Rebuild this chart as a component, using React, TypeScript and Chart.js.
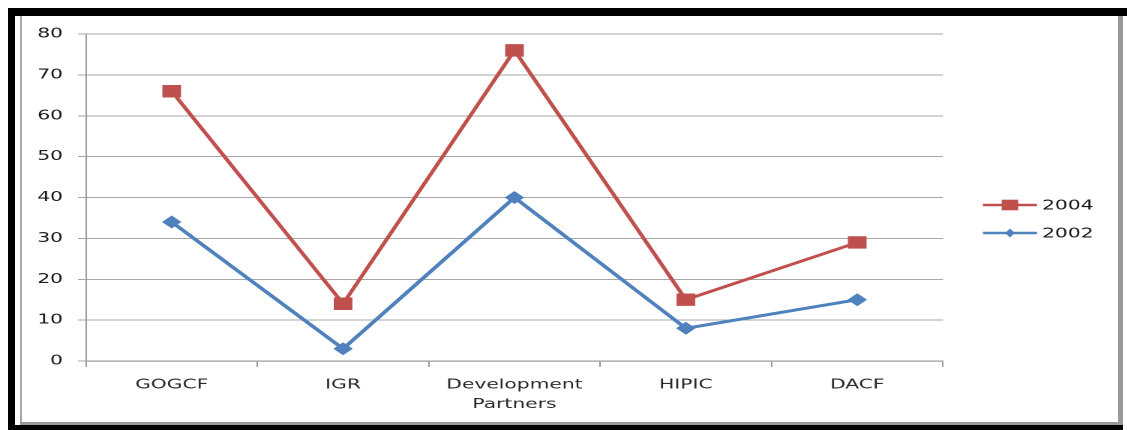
import React, { useEffect, useRef } from "react";
import { Chart, registerables } from "chart.js";

Chart.register(...registerables);

const categories: (string | string[])[] = ["GOGCF", "IGR", ["Development", "Partners"], "HIPIC", "DACF"];
const seriesNames = ["2004", "2002"];
const values2004 = [66, 14, 76, 15, 29];
const values2002 = [34, 3, 40, 8, 15];
const yMin = 0;
const yMax = 80;
const yStep = 10;

const RED = "#C0504D";
const BLUE = "#4F81BD";
const STRETCH = 1.5;
const W = 1127 / STRETCH;
const H = 430;
const FONT = "'DejaVu Sans', sans-serif";

const legendPlugin = {
  id: "sideLegend",
  afterDraw(chart: any) {
    const ctx = chart.ctx as CanvasRenderingContext2D;
    const x0 = 655.3;
    const x1 = 691.3;
    const ys = [205, 233];
    chart.data.datasets.forEach((ds: any, i: number) => {
      const y = ys[i];
      const c = ds.borderColor as string;
      ctx.save();
      ctx.strokeStyle = c;
      ctx.lineWidth = 2.5;
      ctx.beginPath();
      ctx.moveTo(x0, y);
      ctx.lineTo(x1, y);
      ctx.stroke();
      ctx.fillStyle = c;
      const mx = (x0 + x1) / 2;
      if (ds.pointStyle === "rect") {
        ctx.fillRect(mx - 5.5, y - 5.3, 11, 10.6);
      } else {
        ctx.beginPath();
        ctx.moveTo(mx - 3.2, y);
        ctx.lineTo(mx, y - 4.5);
        ctx.lineTo(mx + 3.2, y);
        ctx.lineTo(mx, y + 4.5);
        ctx.closePath();
        ctx.fill();
      }
      ctx.fillStyle = "#1a1a1a";
      ctx.font = `13.5px ${FONT}`;
      ctx.textAlign = "left";
      ctx.textBaseline = "middle";
      ctx.fillText(ds.label, x1 + 3.4, y + 1);
      ctx.restore();
    });
  },
};

export default function App() {
  const ref = useRef<HTMLCanvasElement | null>(null);

  useEffect(() => {
    if (!ref.current) return;
    const chart = new Chart(ref.current, {
      type: "line",
      data: {
        labels: categories as any,
        datasets: [
          {
            label: seriesNames[0],
            data: values2004,
            borderColor: RED,
            backgroundColor: RED,
            borderWidth: 2.8,
            pointStyle: "rect",
            pointRadius: 8.8,
            pointBorderWidth: 0,
            pointBackgroundColor: RED,
            tension: 0,
          },
          {
            label: seriesNames[1],
            data: values2002,
            borderColor: BLUE,
            backgroundColor: BLUE,
            borderWidth: 3,
            pointStyle: "rectRot",
            pointRadius: 6.5,
            pointBorderWidth: 0,
            pointBackgroundColor: BLUE,
            tension: 0,
          },
        ],
      },
      options: {
        animation: false,
        responsive: true,
        maintainAspectRatio: false,
        devicePixelRatio: 2,
        layout: { padding: { left: 0, right: W - 943 / STRETCH, top: 34, bottom: 9 } },
        plugins: { legend: { display: false }, tooltip: { enabled: false } },
        scales: {
          x: {
            offset: true,
            afterFit: (s: any) => {
              s.height = 60;
            },
            grid: {
              display: true,
              offset: true,
              drawOnChartArea: false,
              drawTicks: true,
              tickLength: 6,
              color: "#9a9a9a",
            },
            border: { display: true, color: "#9a9a9a", width: 1.2 },
            ticks: {
              color: "#2a2a2a",
              font: { family: FONT, size: 13.5, lineHeight: 1.45 },
              padding: 8,
              maxRotation: 0,
              autoSkip: false,
            },
          },
          y: {
            min: yMin,
            max: yMax,
            afterFit: (s: any) => {
              s.width = 86 / STRETCH;
            },
            grid: {
              color: "#a6a6a6",
              lineWidth: 1,
              drawTicks: true,
              tickLength: 8 / STRETCH,
            },
            border: { display: true, color: "#9a9a9a", width: 1 },
            ticks: {
              stepSize: yStep,
              color: "#1a1a1a",
              font: { family: FONT, size: 13.5 },
              padding: 10,
            },
          },
        },
      },
      plugins: [legendPlugin],
    });
    return () => chart.destroy();
  }, []);

  const box = (s: React.CSSProperties) => <div style={{ position: "absolute", ...s }} />;

  return (
    <div style={{ position: "absolute", left: 0, top: 0, width: 1127, height: 430, background: "#fff", overflow: "hidden" }}>
      <div
        style={{
          position: "absolute",
          left: 0,
          top: 0,
          width: W,
          height: H,
          transform: `scaleX(${STRETCH})`,
          transformOrigin: "0 0",
        }}
      >
        <canvas ref={ref} />
      </div>
      {box({ left: 20, top: 16, width: 2, height: 409, background: "#a8a8a8" })}
      {box({ left: 20, top: 422, width: 1103, height: 3, background: "#999" })}
      {box({ left: 1118, top: 16, width: 5, height: 409, background: "#999" })}
      {box({ left: 8, top: 8, width: 1119, height: 8, background: "#000" })}
      {box({ left: 8, top: 8, width: 7, height: 422, background: "#000" })}
      {box({ left: 8, top: 425, width: 1115, height: 5, background: "#000" })}
    </div>
  );
}
